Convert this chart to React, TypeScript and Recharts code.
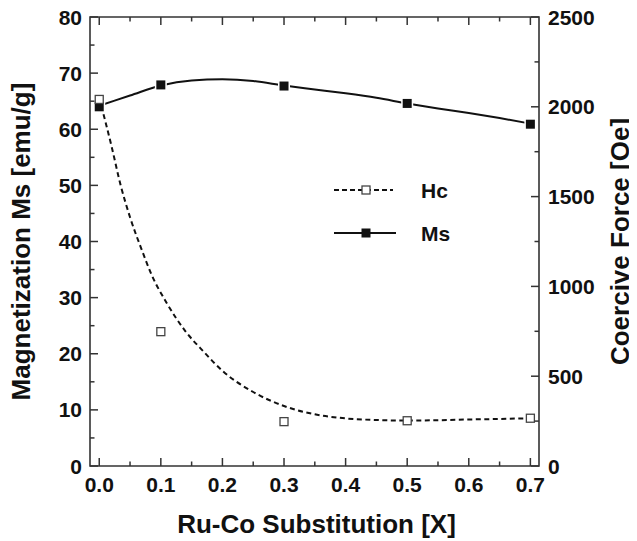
import { ComposedChart, Line, Scatter, XAxis, YAxis, ReferenceArea, Label } from 'recharts';

const FONT = '"Liberation Sans", Arial, Helvetica, sans-serif';
const INK = '#111';
const FRAME = '#333';

// measured samples
const xSamples = [0, 0.1, 0.3, 0.5, 0.7];
const msSamples = [64.0, 67.9, 67.7, 64.6, 60.9];
const hcSamples = [2041, 748, 247, 252, 266];

// fitted curves
const msFitX = [0, 0.05, 0.1, 0.15, 0.2, 0.25, 0.3, 0.35, 0.4, 0.45, 0.5, 0.55, 0.6, 0.65, 0.7];
const msFitY = [64.2, 66.0, 67.8, 68.7, 68.9, 68.6, 67.8, 67.1, 66.4, 65.6, 64.6, 63.7, 62.9, 62.0, 61.0];
const hcFitX = [0, 0.02, 0.035, 0.05, 0.07, 0.085, 0.11, 0.14, 0.17, 0.2, 0.25, 0.3, 0.35, 0.4, 0.45, 0.5, 0.55, 0.6, 0.65, 0.7];
const hcFitY = [2050, 1780, 1560, 1385, 1195, 1065, 905, 750, 635, 530, 412, 334, 288, 265, 256, 253, 255, 259, 262, 266];

const xTicks = [0, 0.05, 0.1, 0.15, 0.2, 0.25, 0.3, 0.35, 0.4, 0.45, 0.5, 0.55, 0.6, 0.65, 0.7];
const msTicks = [0, 5, 10, 15, 20, 25, 30, 35, 40, 45, 50, 55, 60, 65, 70, 75, 80];
const hcTicks = [0, 250, 500, 750, 1000, 1250, 1500, 1750, 2000, 2250, 2500];

const X_DOMAIN: [number, number] = [-0.015, 0.714];
const PLOT_H = 449;

const zip = (xs: number[], ys: number[]) => xs.map((x, i) => ({ x, y: ys[i] }));
const msPoints = zip(xSamples, msSamples);
const hcPoints = zip(xSamples, hcSamples);
const msFit = zip(msFitX, msFitY);
const hcFit = zip(hcFitX, hcFitY);

const labelStyle = { fontFamily: FONT, fontWeight: 700, fill: INK };

function BottomTick({ x, y, payload }: any) {
    const v = payload.value;
    const major = Math.abs(v * 10 - Math.round(v * 10)) < 1e-6;
    const len = major ? 8 : 4.5;
    return (
        <g>
            <line x1={x} y1={y} x2={x} y2={y - len} stroke={FRAME} strokeWidth={1.5} />
            <line x1={x} y1={y - PLOT_H} x2={x} y2={y - PLOT_H + len} stroke={FRAME} strokeWidth={1.5} />
            {major && (
                <text x={x} y={y + 25.5} textAnchor="middle" fontSize={21} {...labelStyle}>
                    {v.toFixed(1)}
                </text>
            )}
        </g>
    );
}

function LeftTick({ x, y, payload }: any) {
    const major = payload.value % 10 === 0;
    return (
        <g>
            <line x1={x} y1={y} x2={x + (major ? 8 : 4.5)} y2={y} stroke={FRAME} strokeWidth={1.5} />
            {major && (
                <text x={x - 8} y={y + 7.5} textAnchor="end" fontSize={21} {...labelStyle}>
                    {payload.value}
                </text>
            )}
        </g>
    );
}

function RightTick({ x, y, payload }: any) {
    const major = payload.value % 500 === 0;
    return (
        <g>
            <line x1={x} y1={y} x2={x - (major ? 8 : 4.5)} y2={y} stroke={FRAME} strokeWidth={1.5} />
            {major && (
                <text x={x + 9} y={y + 7.5} textAnchor="start" fontSize={21} {...labelStyle}>
                    {payload.value}
                </text>
            )}
        </g>
    );
}

const filledSquare = ({ cx, cy }: any) => (
    <g>
        <rect x={cx - 6} y={cy - 6} width={12} height={12} fill="#fff" />
        <rect x={cx - 4.5} y={cy - 4.5} width={9} height={9} fill={INK} />
    </g>
);

const openSquare = ({ cx, cy }: any) => (
    <rect x={cx - 4} y={cy - 4} width={8} height={8} fill="#fff" stroke="#444" strokeWidth={1.3} />
);

export default function App() {
    // pulled back over the body margin so the top labels are not clipped
    return (
        <div style={{ position: 'relative', width: 637, height: 541, margin: '-8px 0 0 -8px' }}>
            <ComposedChart width={637} height={541} margin={{ top: 17, right: 0, bottom: 0, left: 0 }}>
                <XAxis
                    xAxisId="b"
                    dataKey="x"
                    type="number"
                    domain={X_DOMAIN}
                    allowDataOverflow
                    ticks={xTicks}
                    interval={0}
                    height={75}
                    axisLine={false}
                    tickLine={false}
                    tickSize={0}
                    tickMargin={0}
                    tick={<BottomTick />}
                >
                    <Label
                        content={({ viewBox }: any) => (
                            <text x={viewBox.x + viewBox.width / 2 + 2} y={viewBox.y + 67} textAnchor="middle" fontSize={26} {...labelStyle}>
                                Ru-Co Substitution [X]
                            </text>
                        )}
                    />
                </XAxis>
                <YAxis
                    yAxisId="ms"
                    orientation="left"
                    type="number"
                    domain={[0, 80]}
                    allowDataOverflow
                    ticks={msTicks}
                    interval={0}
                    width={90}
                    axisLine={false}
                    tickLine={false}
                    tickSize={0}
                    tickMargin={0}
                    tick={<LeftTick />}
                >
                    <Label
                        content={({ viewBox }: any) => {
                            const cx = viewBox.x + 21;
                            const cy = viewBox.y + viewBox.height / 2;
                            return (
                                <text x={cx} y={cy} transform={`rotate(-90 ${cx} ${cy})`} textAnchor="middle" dominantBaseline="central" fontSize={26} {...labelStyle}>
                                    Magnetization Ms [emu/g]
                                </text>
                            );
                        }}
                    />
                </YAxis>
                <YAxis
                    yAxisId="hc"
                    orientation="right"
                    type="number"
                    domain={[0, 2500]}
                    allowDataOverflow
                    ticks={hcTicks}
                    interval={0}
                    width={98}
                    axisLine={false}
                    tickLine={false}
                    tickSize={0}
                    tickMargin={0}
                    tick={<RightTick />}
                >
                    <Label
                        content={({ viewBox }: any) => {
                            const cx = viewBox.x + 81;
                            const cy = viewBox.y + viewBox.height / 2;
                            return (
                                <text x={cx} y={cy} transform={`rotate(-90 ${cx} ${cy})`} textAnchor="middle" dominantBaseline="central" fontSize={26} {...labelStyle}>
                                    Coercive Force [Oe]
                                </text>
                            );
                        }}
                    />
                </YAxis>

                <ReferenceArea xAxisId="b" yAxisId="ms" x1={X_DOMAIN[0]} x2={X_DOMAIN[1]} y1={0} y2={80} fill="none" stroke={FRAME} strokeWidth={1.6} />

                <Line xAxisId="b" yAxisId="hc" data={hcFit} dataKey="y" type="monotone" stroke={INK} strokeWidth={2} strokeDasharray="5 3.5" dot={false} activeDot={false} isAnimationActive={false} />
                <Line xAxisId="b" yAxisId="ms" data={msFit} dataKey="y" type="monotone" stroke={INK} strokeWidth={2} dot={false} activeDot={false} isAnimationActive={false} />
                <Scatter xAxisId="b" yAxisId="ms" data={msPoints} dataKey="y" shape={filledSquare} isAnimationActive={false} />
                <Scatter xAxisId="b" yAxisId="hc" data={hcPoints} dataKey="y" shape={openSquare} isAnimationActive={false} />
            </ComposedChart>

            {/* legend */}
            <svg width={637} height={541} style={{ position: 'absolute', left: 0, top: 0, pointerEvents: 'none' }}>
                <line x1={334} y1={190} x2={393} y2={190} stroke={INK} strokeWidth={1.8} strokeDasharray="5 3" />
                <rect x={362} y={186} width={8} height={8} fill="#fff" stroke="#444" strokeWidth={1.3} />
                <text x={421} y={197.5} fontSize={21} {...labelStyle}>Hc</text>
                <line x1={334} y1={233} x2={396} y2={233} stroke={INK} strokeWidth={1.8} />
                <rect x={361.5} y={228.5} width={9} height={9} fill={INK} />
                <text x={421} y={240.5} fontSize={21} {...labelStyle}>Ms</text>
            </svg>
        </div>
    );
}
